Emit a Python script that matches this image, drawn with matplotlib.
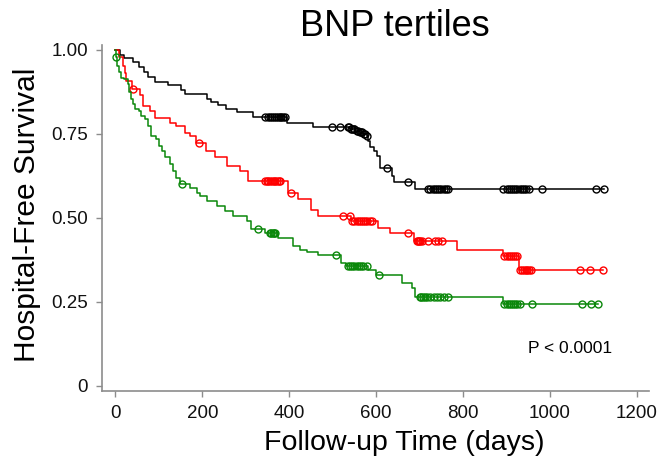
import numpy as np
import matplotlib
matplotlib.use('Agg')
import matplotlib.pyplot as plt

plt.rcParams['font.family'] = ['Liberation Sans', 'DejaVu Sans']

# ---- data (days, survival) ----
black_t = [0, 10, 20, 40, 55, 65, 75, 90, 120, 150, 160, 210, 220, 235, 255, 280, 317,
           394, 455, 540, 552, 560, 570, 578, 582, 586, 594, 602, 609, 636, 640, 690]
black_s = [1.0, 0.985, 0.975, 0.965, 0.95, 0.935, 0.92, 0.905, 0.895, 0.88, 0.868, 0.855,
           0.845, 0.835, 0.825, 0.815, 0.80, 0.784, 0.772, 0.765, 0.76, 0.755, 0.75, 0.745,
           0.729, 0.71, 0.70, 0.685, 0.65, 0.625, 0.608, 0.587]
black_cens = [344, 350, 355, 360, 365, 370, 374, 378, 382, 386, 390, 499, 517, 535, 538,
              542, 545, 548, 550, 555, 558, 562, 565, 568, 572, 575, 580, 626, 673, 720,
              725, 730, 735, 740, 745, 750, 755, 760, 766, 893, 900, 905, 910, 915, 920,
              925, 930, 935, 940, 945, 951, 981, 1107, 1125]

red_t = [0, 8, 17, 21, 25, 37, 56, 64, 79, 90, 125, 140, 160, 171, 185, 209, 229, 256,
         287, 306, 398, 421, 451, 467, 542, 605, 632, 686, 786, 893, 928]
red_s = [1.0, 0.978, 0.953, 0.93, 0.908, 0.884, 0.865, 0.834, 0.819, 0.799, 0.784, 0.774,
         0.754, 0.744, 0.724, 0.699, 0.68, 0.655, 0.64, 0.61, 0.575, 0.555, 0.525, 0.505,
         0.49, 0.471, 0.456, 0.431, 0.406, 0.388, 0.346]
red_cens = [41, 192, 344, 348, 352, 356, 360, 364, 368, 372, 376, 379, 405, 524, 540, 545,
            550, 555, 560, 565, 570, 575, 580, 585, 590, 674, 693, 696, 699, 702, 705, 720,
            736, 743, 751, 895, 900, 905, 910, 915, 920, 925, 932, 936, 940, 944, 948, 952,
            957, 1070, 1091, 1122]

green_t = [0, 1, 4, 8, 12, 20, 28, 32, 36, 40, 44, 55, 59, 67, 74, 82, 93, 100, 106, 114,
           125, 133, 140, 148, 171, 187, 194, 210, 233, 252, 271, 302, 313, 345, 375, 409,
           425, 440, 467, 520, 530, 582, 600, 659, 682, 690, 893]
green_s = [1.0, 0.98, 0.953, 0.934, 0.918, 0.913, 0.898, 0.874, 0.854, 0.839, 0.824, 0.819,
           0.804, 0.794, 0.774, 0.744, 0.734, 0.714, 0.70, 0.68, 0.66, 0.64, 0.62, 0.60,
           0.59, 0.575, 0.565, 0.55, 0.535, 0.52, 0.505, 0.49, 0.466, 0.456, 0.441, 0.416,
           0.406, 0.40, 0.391, 0.366, 0.356, 0.346, 0.331, 0.306, 0.291, 0.265, 0.244]
green_cens = [2, 152, 329, 356, 359, 362, 365, 367, 508, 535, 540, 545, 550, 555, 560, 565,
              570, 578, 607, 701, 704, 707, 712, 718, 725, 733, 740, 748, 756, 766, 895, 900,
              905, 910, 915, 920, 925, 930, 958, 1074, 1094, 1110]

groups = [(black_t, black_s, black_cens, 'black'),
          (red_t, red_s, red_cens, '#ff0000'),
          (green_t, green_s, green_cens, '#0a870a')]

fig = plt.figure(figsize=(6.65, 4.68), dpi=100)
ax = fig.add_axes([0.1534, 0.1645, 0.8226, 0.7395])

for t, s, cens, col in groups:
    t = np.array(t, dtype=float)
    s = np.array(s)
    tend = max(t[-1], max(cens))
    ax.step(np.append(t, tend), np.append(s, s[-1]), where='post', color=col, lw=1.1)
    idx = np.searchsorted(t, cens, side='right') - 1
    ax.plot(cens, s[idx], 'o', ms=5, mfc='none', mec=col, mew=1.0)

ax.set_xlim(-31, 1228)
ax.set_ylim(-0.015, 1.015)
ax.set_xticks(range(0, 1201, 200))
ax.set_yticks([0, 0.25, 0.5, 0.75, 1.0])
ax.set_yticklabels(['0', '0.25', '0.50', '0.75', '1.00'])
for sp in ['top', 'right']:
    ax.spines[sp].set_visible(False)
for sp in ['left', 'bottom']:
    ax.spines[sp].set_color('#8c8c8c')
    ax.spines[sp].set_linewidth(1.2)
ax.tick_params(direction='out', length=4, width=1, color='#8c8c8c', labelsize=13.5,
               labelcolor='#111111', pad=6)

ax.text(1047, 0.113, 'P < 0.0001', fontsize=12.5, ha='center', va='center')
fig.text(395 / 665, 1 - 27 / 468, 'BNP tertiles', fontsize=26, ha='center', va='center')
fig.text(404 / 665, 1 - 443 / 468, 'Follow-up Time (days)', fontsize=20.5,
         ha='center', va='center')
fig.text(27 / 665, 1 - 215 / 468, 'Hospital-Free Survival', fontsize=21.5,
         ha='center', va='center', rotation=90)

fig.savefig('out.png', dpi=100)
